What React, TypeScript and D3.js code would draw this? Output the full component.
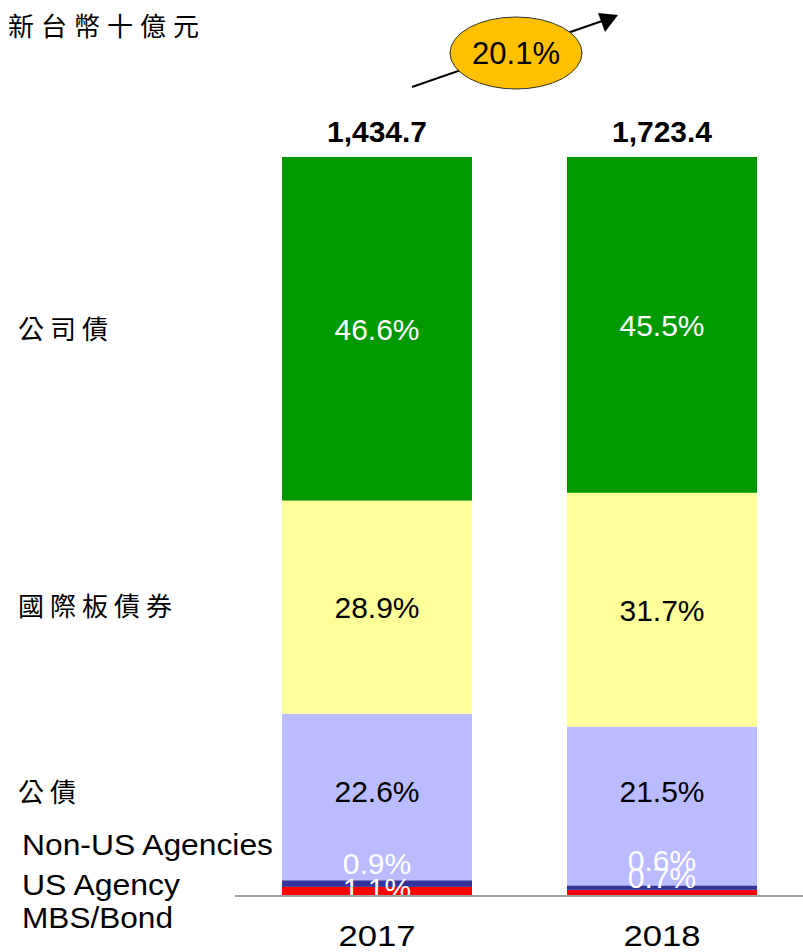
import React from "react";
import * as d3 from "d3";

const years = ["2017", "2018"];
const totals = ["1,434.7", "1,723.4"];
const seriesNames = ["US Agency MBS/Bond", "Non-US Agencies", "公債", "國際板債券", "公司債"];
const mbsBond = [1.1, 0.7];
const nonUsAgencies = [0.9, 0.6];
const govBonds = [22.6, 21.5];
const intlBonds = [28.9, 31.7];
const corpBonds = [46.6, 45.5];
const growthLabel = "20.1%";
const unitLabel = "新台幣十億元";

const seriesValues = [mbsBond, nonUsAgencies, govBonds, intlBonds, corpBonds];
const colors = ["#FF0000", "#333399", "#BBBBFF", "#FFFF99", "#009900"];
const labelColors = ["#FFFFFF", "#FFFFFF", "#000000", "#000000", "#FFFFFF"];
// small vertical nudges for the in-bar labels (series x year)
const labelNudge = [
  [-3, -15],
  [-20, -27],
  [-6, -15],
  [0, 0],
  [0, 0],
];

const W = 803;
const H = 952;
const FONT = "'Liberation Sans', Arial, sans-serif";
const CJK = "'Noto Sans CJK TC', 'Noto Sans CJK SC', sans-serif";

export default function App() {
  const x = d3
    .scaleBand<string>()
    .domain(years)
    .range([234.5, 804.5])
    .paddingInner(1 / 3)
    .paddingOuter(1 / 6);

  const rows = years.map((yr, i) => {
    const r: Record<string, number | string> = { year: yr };
    seriesNames.forEach((s, k) => (r[s] = seriesValues[k][i]));
    return r;
  });
  const stacked = d3.stack<Record<string, number | string>>().keys(seriesNames)(rows as any);
  const sums = years.map((_, i) => d3.sum(seriesValues, (v) => v[i]));

  const yFor = (i: number) => d3.scaleLinear().domain([0, sums[i]]).range([895, 157]);

  return (
    <svg width={W} height={H} style={{ position: "absolute", left: 0, top: 0, background: "#fff" }}>
      <rect x={0} y={0} width={W} height={H} fill="#fff" />
      {stacked.map((layer, k) =>
        layer.map((d, i) => {
          const y = yFor(i);
          const bx = x(years[i])!;
          const y0 = y(d[0]);
          const y1 = y(d[1]);
          return (
            <rect
              key={`r${k}-${i}`}
              x={bx}
              y={y1}
              width={x.bandwidth()}
              height={y0 - y1}
              fill={colors[k]}
            />
          );
        })
      )}
      {stacked.map((layer, k) =>
        layer.map((d, i) => {
          const y = yFor(i);
          const cx = x(years[i])! + x.bandwidth() / 2;
          const cy = (y(d[0]) + y(d[1])) / 2 + labelNudge[k][i];
          return (
            <text
              key={`t${k}-${i}`}
              x={cx}
              y={cy}
              dy="0.36em"
              textAnchor="middle"
              fontFamily={FONT}
              fontSize={30}
              fill={labelColors[k]}
            >
              {seriesValues[k][i].toFixed(1)}%
            </text>
          );
        })
      )}
      <line x1={235} x2={803} y1={896} y2={896} stroke="#808080" strokeWidth={1.5} />
      {years.map((yr, i) => (
        <text
          key={`y${yr}`}
          x={x(yr)! + x.bandwidth() / 2}
          y={946}
          textAnchor="middle"
          fontFamily={FONT}
          fontSize={29}
          textLength={77}
          lengthAdjust="spacingAndGlyphs"
          fill="#000"
        >
          {yr}
        </text>
      ))}
      {years.map((yr, i) => (
        <text
          key={`tot${yr}`}
          x={x(yr)! + x.bandwidth() / 2}
          y={142}
          textAnchor="middle"
          fontFamily={FONT}
          fontWeight="bold"
          fontSize={30}
          fill="#000"
        >
          {totals[i]}
        </text>
      ))}
      {/* growth arrow */}
      <line x1={412} y1={87} x2={605} y2={20} stroke="#000" strokeWidth={2} />
      <path d="M618,15 L598,13 L605,32 Z" fill="#000" />
      <ellipse cx={516} cy={53} rx={66} ry={36} fill="#FFC000" stroke="#333" strokeWidth={1} />
      <text x={516} y={53} dy="0.36em" textAnchor="middle" fontFamily={FONT} fontSize={31} fill="#000">
        {growthLabel}
      </text>
      {/* left labels */}
      <text x={8} y={27} dy="0.36em" fontFamily={CJK} fontSize={26} letterSpacing={7} fill="#000">
        {unitLabel}
      </text>
      <text x={18} y={330} dy="0.36em" fontFamily={CJK} fontSize={26} letterSpacing={6} fill="#000">
        {seriesNames[4]}
      </text>
      <text x={18} y={607} dy="0.36em" fontFamily={CJK} fontSize={26} letterSpacing={6} fill="#000">
        {seriesNames[3]}
      </text>
      <text x={18} y={793} dy="0.36em" fontFamily={CJK} fontSize={26} letterSpacing={6} fill="#000">
        {seriesNames[2]}
      </text>
      <text x={22} y={855} fontFamily={FONT} fontSize={29} textLength={251} lengthAdjust="spacingAndGlyphs" fill="#000">
        {seriesNames[1]}
      </text>
      <text x={22} y={895} fontFamily={FONT} fontSize={29} textLength={158} lengthAdjust="spacingAndGlyphs" fill="#000">
        US Agency
      </text>
      <text x={22} y={928} fontFamily={FONT} fontSize={29} textLength={151} lengthAdjust="spacingAndGlyphs" fill="#000">
        MBS/Bond
      </text>
    </svg>
  );
}
